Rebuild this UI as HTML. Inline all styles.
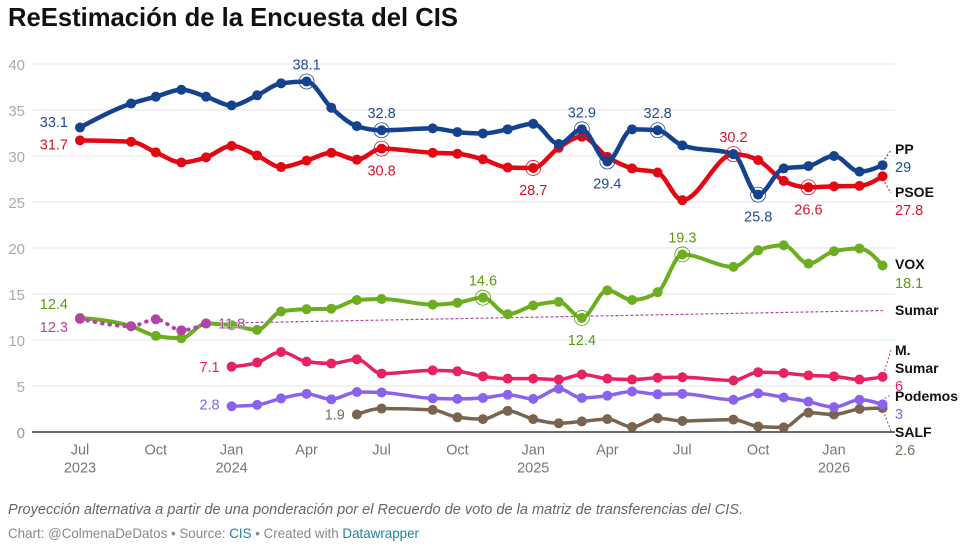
<!DOCTYPE html>
<html lang="es">
<head>
<meta charset="utf-8">
<title>ReEstimación de la Encuesta del CIS</title>
<style>
html,body{margin:0;padding:0;background:#fff;width:963px;height:546px;overflow:hidden}
svg{display:block;font-family:"Liberation Sans",sans-serif}
</style>
</head>
<body>
<svg id="chart" width="963" height="546" viewBox="0 0 963 546" xmlns="http://www.w3.org/2000/svg">
  <text x="8" y="26" font-size="26" font-weight="700" fill="#111" textLength="450" lengthAdjust="spacingAndGlyphs">ReEstimación de la Encuesta del CIS</text>
  <g id="grid"></g>
  <g id="axes"></g>
  <g id="marks"></g>
  <g id="labels"></g>
  <text x="8" y="514" font-size="14.5" font-style="italic" fill="#666" textLength="735" lengthAdjust="spacingAndGlyphs">Proyección alternativa a partir de una ponderación por el Recuerdo de voto de la matriz de transferencias del CIS.</text>
  <text x="8" y="538" font-size="14" fill="#888" textLength="411" lengthAdjust="spacingAndGlyphs">Chart: @ColmenaDeDatos • Source: <tspan fill="#1d81a2">CIS</tspan> • Created with <tspan fill="#1d81a2">Datawrapper</tspan></text>
</svg>
<script>
const months = ['2023-07','2023-09','2023-10','2023-11','2023-12','2024-01','2024-02','2024-03','2024-04','2024-05','2024-06','2024-07','2024-09','2024-10','2024-11','2024-12','2025-01','2025-02','2025-03','2025-04','2025-05','2025-06','2025-07','2025-09','2025-10','2025-11','2025-12','2026-01','2026-02','2026-03'];
const ppValues = [33.1,35.7,36.45,37.2,36.45,35.5,36.6,37.9,38.1,35.25,33.25,32.8,33.0,32.6,32.45,32.9,33.5,31.3,32.9,29.4,32.9,32.8,31.15,30.2,25.8,28.65,28.9,30.0,28.3,29];
const psoeValues = [31.7,31.55,30.4,29.3,29.85,31.1,30.05,28.8,29.5,30.35,29.6,30.8,30.35,30.25,29.65,28.75,28.7,30.9,32.1,29.9,28.65,28.2,25.2,30.2,29.55,27.3,26.6,26.7,26.75,27.8];
const voxValues = [12.4,11.5,10.45,10.2,11.8,11.6,11.1,13.1,13.35,13.4,14.35,14.45,13.85,14.05,14.6,12.8,13.75,14.15,12.4,15.4,14.35,15.2,19.3,17.95,19.75,20.3,18.3,19.65,19.95,18.1];
const sumarMonths = ['2023-07','2023-09','2023-10','2023-11','2023-12'];
const sumarValues = [12.3,11.5,12.25,11.05,11.8];
const sumarTrendMonths = ['2023-12','2026-03'];
const sumarTrendValues = [11.8,13.2];
const mSumarMonths = months.slice(5);
const mSumarValues = [7.1,7.55,8.7,7.65,7.45,7.9,6.35,6.7,6.6,6.05,5.8,5.8,5.7,6.25,5.8,5.7,5.9,5.95,5.6,6.5,6.4,6.15,6.05,5.7,6];
const podemosMonths = months.slice(5);
const podemosValues = [2.8,2.95,3.65,4.15,3.55,4.35,4.3,3.65,3.6,3.7,4.05,3.6,4.7,3.7,3.95,4.4,4.1,4.15,3.5,4.2,3.75,3.3,2.7,3.5,3];
const salfMonths = months.slice(10);
const salfValues = [1.9,2.55,2.4,1.6,1.4,2.3,1.4,0.95,1.15,1.4,0.55,1.5,1.2,1.35,0.6,0.5,2.1,1.9,2.5,2.6];
const yTicks = [0,5,10,15,20,25,30,35,40];
const xTickMonths = ['2023-07','2023-10','2024-01','2024-04','2024-07','2024-10','2025-01','2025-04','2025-07','2025-10','2026-01'];
const xTickLabels = ['Jul','Oct','Jan','Apr','Jul','Oct','Jan','Apr','Jul','Oct','Jan'];
const xTickYears = ['2023','','2024','','','','2025','','','','2026'];

const NS = 'http://www.w3.org/2000/svg';
const t0 = Date.UTC(2023, 6, 1);
function x(month) {
  const p = month.split('-');
  return 80 + (Date.UTC(+p[0], +p[1] - 1, 1) - t0) / 864e5 * 0.824;
}
function y(v) { return 432 - v * 9.2; }
function make(parent, tag, attrs, text) {
  const el = document.createElementNS(NS, tag);
  for (const k in attrs) el.setAttribute(k, attrs[k]);
  if (text !== undefined) el.textContent = text;
  parent.appendChild(el);
  return el;
}
function slope3(x0,y0,x1,y1,x2,y2){
  const h0=x1-x0,h1=x2-x1,s0=(y1-y0)/h0,s1=(y2-y1)/h1,p=(s0*h1+s1*h0)/(h0+h1);
  return ((s0<0?-1:1)+(s1<0?-1:1))*Math.min(Math.abs(s0),Math.abs(s1),0.5*Math.abs(p))||0;
}
function monotonePath(xs, ys) {
  const n = xs.length;
  if (n < 3) return 'M' + xs[0] + ',' + ys[0] + 'L' + xs[1] + ',' + ys[1];
  const t = [];
  for (let i = 1; i < n - 1; i++) t[i] = slope3(xs[i-1],ys[i-1],xs[i],ys[i],xs[i+1],ys[i+1]);
  t[0] = (3*(ys[1]-ys[0])/(xs[1]-xs[0]) - t[1]) / 2;
  t[n-1] = (3*(ys[n-1]-ys[n-2])/(xs[n-1]-xs[n-2]) - t[n-2]) / 2;
  let d = 'M' + xs[0] + ',' + ys[0];
  for (let i = 0; i < n - 1; i++) {
    const dx = (xs[i+1]-xs[i]) / 3;
    d += 'C' + (xs[i]+dx) + ',' + (ys[i]+dx*t[i]) + ' ' + (xs[i+1]-dx) + ',' + (ys[i+1]-dx*t[i+1]) + ' ' + xs[i+1] + ',' + ys[i+1];
  }
  return d;
}

const grid = document.getElementById('grid');
const axes = document.getElementById('axes');
const marks = document.getElementById('marks');
const labels = document.getElementById('labels');

yTicks.forEach(function (v) {
  const line = make(grid, 'line', {x1: 32, x2: 895, y1: y(v), y2: y(v), stroke: v === 0 ? '#111' : '#e4e4e4', 'stroke-width': v === 0 ? 1.2 : 1});
  
  
  const tick = make(axes, 'text', {x: 25, y: y(v) + 6, 'text-anchor': 'end', 'font-size': 15, fill: v === 0 ? '#999' : '#aaa'}, String(v));
  
  
});
xTickMonths.forEach(function (m, i) {
  const tick = make(axes, 'text', {x: x(m), y: 454.5, 'text-anchor': 'middle', 'font-size': 14.5, fill: '#777'}, xTickLabels[i]);
  
  
  if (xTickYears[i]) {
    const yr = make(axes, 'text', {x: x(m), y: 472.5, 'text-anchor': 'middle', 'font-size': 14.5, fill: '#777'}, xTickYears[i]);
    
    
  }
});

function drawSeries(name, ms, vs, color, width, r, dash) {
  const g = make(marks, 'g', {});
  
  
  const attrs = {d: monotonePath(ms.map(x), vs.map(y)), fill: 'none', stroke: color, 'stroke-width': width, 'stroke-linejoin': 'round', 'stroke-linecap': dash ? 'round' : 'butt'};
  if (dash) attrs['stroke-dasharray'] = dash;
  const path = make(g, 'path', attrs);
  
  
  if (r) ms.forEach(function (m, i) {
    const dot = make(g, 'circle', {cx: x(m), cy: y(vs[i]), r: r, fill: color});
    
    
  });
}
const PP = '#15428f', PSOE = '#e30613', VOX = '#6cae20', SUM = '#b044a8', MS = '#e6225f', POD = '#8a62ee', SALF = '#7a6450';
drawSeries('salf', salfMonths, salfValues, SALF, 3.5, 5);
drawSeries('podemos', podemosMonths, podemosValues, POD, 3.5, 5);
drawSeries('m-sumar', mSumarMonths, mSumarValues, MS, 3.5, 5);
drawSeries('sumar-trend', sumarTrendMonths, sumarTrendValues, SUM, 1.2, 0, '2 3');
drawSeries('vox', months, voxValues, VOX, 4, 5);
drawSeries('sumar', sumarMonths, sumarValues, SUM, 4, 5, '0.5 7');
drawSeries('psoe', months, psoeValues, PSOE, 4.5, 5);
drawSeries('pp', months, ppValues, PP, 4.5, 5);

function ring(name, m, v, color) {
  const c = make(labels, 'circle', {cx: x(m), cy: y(v), r: 7.5, fill: 'none', stroke: color, 'stroke-width': 0.8});
  
  
}
function valueLabel(name, ms, vs, m, color, dx, dy, anchor, hasRing) {
  const v = vs[ms.indexOf(m)];
  if (hasRing) ring(name, m, v, color);
  const t = make(labels, 'text', {x: x(m) + dx, y: y(v) + dy, 'text-anchor': anchor, 'font-size': 14.5, fill: color, stroke: '#fff', 'stroke-width': 1.5, 'stroke-opacity': 0.5, 'paint-order': 'stroke'}, String(v));
  
  
}
const up = -12, down = 27;
valueLabel('pp', months, ppValues, '2023-07', '#1c4c8f', -12, -0.5, 'end');
valueLabel('pp', months, ppValues, '2024-04', '#1c4c8f', 0, up, 'middle', true);
valueLabel('pp', months, ppValues, '2024-07', '#1c4c8f', 0, up, 'middle', true);
valueLabel('pp', months, ppValues, '2025-03', '#1c4c8f', 0, up, 'middle', true);
valueLabel('pp', months, ppValues, '2025-04', '#1c4c8f', 0, down, 'middle', true);
valueLabel('pp', months, ppValues, '2025-06', '#1c4c8f', 0, up, 'middle', true);
valueLabel('pp', months, ppValues, '2025-10', '#1c4c8f', 0, down, 'middle', true);
valueLabel('psoe', months, psoeValues, '2023-07', '#d4142a', -12, 9, 'end');
valueLabel('psoe', months, psoeValues, '2024-07', '#d4142a', 0, down, 'middle', true);
valueLabel('psoe', months, psoeValues, '2025-01', '#d4142a', 0, down, 'middle', true);
valueLabel('psoe', months, psoeValues, '2025-09', '#d4142a', 0, up, 'middle', true);
valueLabel('psoe', months, psoeValues, '2025-12', '#d4142a', 0, down, 'middle', true);
valueLabel('vox', months, voxValues, '2023-07', '#5a9a10', -12, -9, 'end');
valueLabel('vox', months, voxValues, '2024-11', '#5a9a10', 0, up, 'middle', true);
valueLabel('vox', months, voxValues, '2025-03', '#5a9a10', 0, down, 'middle', true);
valueLabel('vox', months, voxValues, '2025-07', '#5a9a10', 0, up, 'middle', true);
valueLabel('sumar', sumarMonths, sumarValues, '2023-07', SUM, -12, 13, 'end');
valueLabel('sumar', sumarMonths, sumarValues, '2023-12', SUM, 12, 5, 'start');
valueLabel('m-sumar', mSumarMonths, mSumarValues, '2024-01', MS, -12, 5.5, 'end');
valueLabel('podemos', podemosMonths, podemosValues, '2024-01', POD, -12, 3.5, 'end');
valueLabel('salf', salfMonths, salfValues, '2024-06', '#777060', -12, 5, 'end');

function endLabel(name, title, value, color, lineY) {
  const t = make(labels, 'text', {x: 895, y: lineY, 'font-size': 14, 'font-weight': 700, fill: '#111'}, title);
  
  
}
function endValue(name, value, color, lineY) {
  const t = make(labels, 'text', {x: 895, y: lineY, 'font-size': 14.5, fill: color}, String(value));
  
  
}
function connector(name, v, color, ty) {
  const last = months[months.length - 1];
  const sy = y(v), dir = ty < sy ? -1 : 1;
  const l = make(labels, 'line', {x1: x(last) + 2, y1: sy + dir * 6, x2: 891, y2: ty, stroke: color, 'stroke-width': 1, 'stroke-dasharray': '2 2'});
  
  
}
connector('pp', ppValues[ppValues.length - 1], PP, 150);
connector('psoe', psoeValues[psoeValues.length - 1], PSOE, 193);
connector('m-sumar', mSumarValues[mSumarValues.length - 1], MS, 350);
connector('podemos', podemosValues[podemosValues.length - 1], POD, 395);
connector('salf', salfValues[salfValues.length - 1], SALF, 431);
endLabel('pp', 'PP', 0, PP, 154);
endValue('pp', ppValues[ppValues.length - 1], '#1c4c8f', 172);
endLabel('psoe', 'PSOE', 0, PSOE, 197);
endValue('psoe', psoeValues[psoeValues.length - 1], '#d4142a', 215);
endLabel('vox', 'VOX', 0, VOX, 269);
endValue('vox', voxValues[voxValues.length - 1], '#5a9a10', 288);
endLabel('sumar', 'Sumar', 0, SUM, 315);
endLabel('m-sumar-line-1', 'M.', 0, MS, 355);
endLabel('m-sumar-line-2', 'Sumar', 0, MS, 373);
endValue('m-sumar', mSumarValues[mSumarValues.length - 1], MS, 391);
endLabel('podemos', 'Podemos', 0, POD, 401);
endValue('podemos', podemosValues[podemosValues.length - 1], POD, 419);
endLabel('salf', 'SALF', 0, SALF, 437);
endValue('salf', salfValues[salfValues.length - 1], '#777060', 455);
</script>
</body>
</html>
